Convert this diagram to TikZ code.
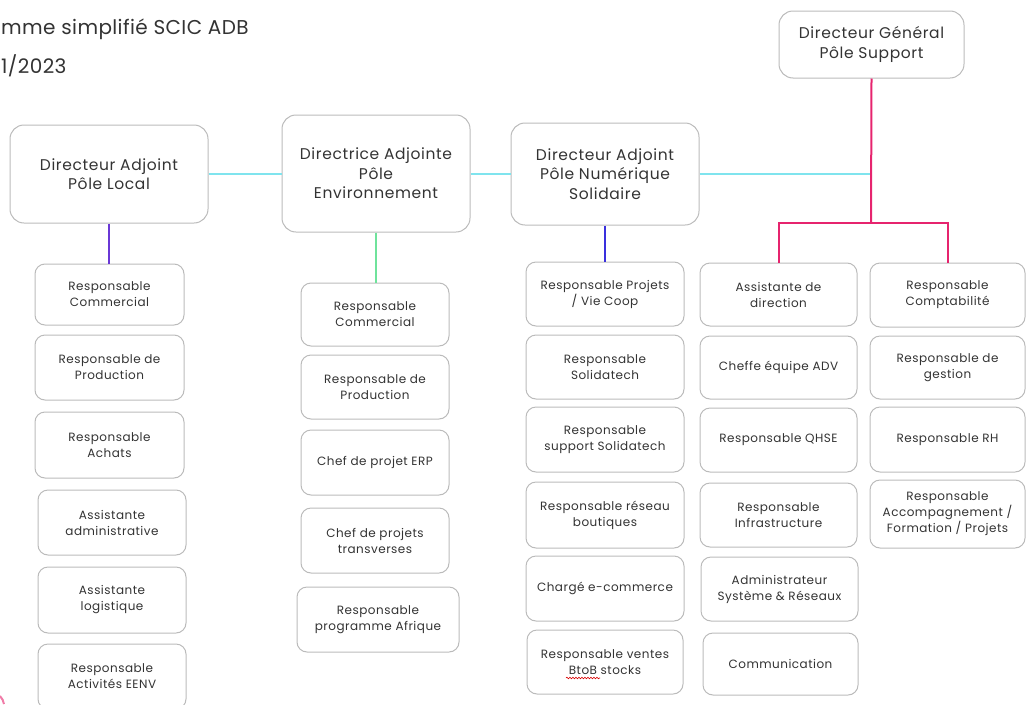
\documentclass[tikz,border=0pt]{standalone}
\usepackage{fontspec}
\setmainfont{Poppins}[LetterSpace=4]
\newfontfamily\titlefont{Poppins}[LetterSpace=2]
\usetikzlibrary{decorations.pathmorphing}
\definecolor{txt}{HTML}{333333}
\definecolor{bord}{HTML}{BBBBBB}
\definecolor{cyanl}{HTML}{7FE4EE}
\definecolor{purp}{HTML}{6A38D6}
\definecolor{greenl}{HTML}{6FE39C}
\definecolor{bluel}{HTML}{3A30DD}
\definecolor{pinkl}{HTML}{E6246E}
\tikzset{
  base/.style={draw=bord, line width=1pt, rounded corners=10pt, align=center, text=txt, inner sep=2pt},
  head/.style={base, rounded corners=14pt, font=\fontsize{15.5}{19.5}\selectfont},
  cbox/.style={base, font=\fontsize{12}{16}\selectfont},
  ttl/.style={anchor=base west, inner sep=0, text=txt, font=\titlefont\fontsize{20}{24}\selectfont},
  link/.style={line width=2pt},
}
\begin{document}
\begin{tikzpicture}[x=1pt,y=-1pt]
\useasboundingbox (0,0) rectangle (1027,704);
% title
\node[ttl] (t1) at (1,34) {mme simplifié SCIC ADB};
\node[ttl] (t2) at (1,73) {1/2023};
% headers
\node[head, minimum width=198pt, minimum height=98pt] (H1) at (109,174) {Directeur Adjoint\\Pôle Local};
\node[head, minimum width=188pt, minimum height=117pt] (H2) at (376,173.5) {Directrice Adjointe\\Pôle\\Environnement};
\node[head, minimum width=188pt, minimum height=102pt] (H3) at (605,174) {Directeur Adjoint\\Pôle Numérique\\Solidaire};
\node[head, minimum width=185pt, minimum height=67pt] (DG) at (871.5,44.5) {Directeur Général\\Pôle Support};
% column 1
\node[cbox, minimum width=149pt, minimum height=61pt] (c11) at (109.5,294.5) {Responsable\\Commercial};
\node[cbox, minimum width=149pt, minimum height=65pt] (c12) at (109.5,367.5) {Responsable de\\Production};
\node[cbox, minimum width=149pt, minimum height=66pt] (c13) at (109.5,445) {Responsable\\Achats};
\node[cbox, minimum width=148pt, minimum height=65pt] (c14) at (112,522.5) {Assistante\\administrative};
\node[cbox, minimum width=148pt, minimum height=66pt] (c15) at (112,600) {Assistante\\logistique};
\node[cbox, minimum width=148pt, minimum height=65pt] (c16) at (112,676.5) {Responsable\\Activités EENV};
% column 2
\node[cbox, minimum width=148pt, minimum height=63pt] (c21) at (375,314.5) {Responsable\\Commercial};
\node[cbox, minimum width=148pt, minimum height=64pt] (c22) at (375,387) {Responsable de\\Production};
\node[cbox, minimum width=148pt, minimum height=65pt] (c23) at (375,462.5) {Chef de projet ERP};
\node[cbox, minimum width=148pt, minimum height=65pt] (c24) at (375,540.5) {Chef de projets\\transverses};
\node[cbox, minimum width=162pt, minimum height=65pt] (c25) at (378,619.5) {Responsable\\programme Afrique};
% column 3
\node[cbox, minimum width=158pt, minimum height=64pt] (c31) at (605,294) {Responsable Projets\\/ Vie Coop};
\node[cbox, minimum width=158pt, minimum height=64pt] (c32) at (605,367) {Responsable\\Solidatech};
\node[cbox, minimum width=158pt, minimum height=65pt] (c33) at (605,439.5) {Responsable\\support Solidatech};
\node[cbox, minimum width=158pt, minimum height=66pt] (c34) at (605,515) {Responsable réseau\\boutiques};
\node[cbox, minimum width=158pt, minimum height=65pt] (c35) at (605,588.5) {Chargé e-commerce};
\node[cbox, minimum width=156pt, minimum height=64pt] (c36) at (605,662) {Responsable ventes\\BtoB stocks};
% column 4
\node[cbox, minimum width=157pt, minimum height=63pt] (c41) at (778.5,294.5) {Assistante de\\direction};
\node[cbox, minimum width=157pt, minimum height=63pt] (c42) at (778.5,367.5) {Cheffe équipe ADV};
\node[cbox, minimum width=157pt, minimum height=64pt] (c43) at (778.5,440) {Responsable QHSE};
\node[cbox, minimum width=157pt, minimum height=64pt] (c44) at (778.5,515) {Responsable\\Infrastructure};
\node[cbox, minimum width=157pt, minimum height=64pt] (c45) at (779.5,589) {Administrateur\\Système \& Réseaux};
\node[cbox, minimum width=155pt, minimum height=62pt] (c46) at (780.5,664) {Communication};
% column 5
\node[cbox, minimum width=155pt, minimum height=64pt] (c51) at (947.5,295) {Responsable\\Comptabilité};
\node[cbox, minimum width=155pt, minimum height=63pt] (c52) at (947.5,367.5) {Responsable de\\gestion};
\node[cbox, minimum width=155pt, minimum height=65pt] (c53) at (947.5,439.5) {Responsable RH};
\node[cbox, minimum width=155pt, minimum height=68pt] (c54) at (947.5,514) {Responsable\\Accompagnement /\\Formation / Projets};
% connectors
\draw[link, cyanl] (H1.east) -- (H2.west |- H1.east);
\draw[link, cyanl] (H2.east |- H3.west) -- (H3.west);
\draw[link, cyanl] (H3.east) -- (H3.east -| DG.south);
\draw[link, purp] (H1.south) -- (H1.south |- c11.north);
\draw[link, greenl] (H2.south) -- (H2.south |- c21.north);
\draw[link, bluel] (H3.south) -- (H3.south |- c31.north);
\coordinate (J) at (871,223);
\draw[link, pinkl] (DG.south) -- (J);
\draw[link, pinkl, line join=miter] (c41.north) |- (J) -| (c51.north);
% spell-check underline
\draw[red!85!black, line width=0.6pt, decorate, decoration={snake, amplitude=0.8pt, segment length=3pt}] (566,678) -- (600,678);
% corner mark
\draw[pinkl!60, line width=2pt] (0,696) to[bend left=15] (4,704);
\end{tikzpicture}
\end{document}
